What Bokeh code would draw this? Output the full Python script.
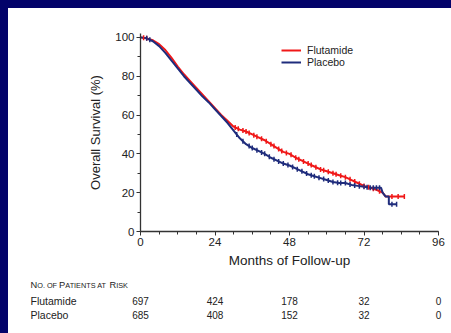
import numpy as np
from bokeh.plotting import figure
from bokeh.models import (Range1d, FixedTicker, Legend, LegendItem, Div)
from bokeh.core.properties import value
from bokeh.layouts import row, column
from bokeh.embed import file_html
from bokeh.resources import INLINE

# ---------------- data ----------------
flut_months = [0, 2, 4, 6, 8, 10, 12, 14, 16, 18, 20, 22, 24, 26, 28, 30, 32, 34, 36, 38,
               40, 42, 44, 46, 48, 50, 52, 54, 56, 58, 60, 62, 64, 66, 68, 70, 72, 74, 76,
               78, 79, 85]
flut_surv = [100, 99.5, 98.5, 96.5, 93.5, 89.5, 85, 81, 77.5, 74, 70.5, 67, 63.5, 60, 57,
             54, 52.5, 51.5, 50, 48.5, 47, 45, 43, 41, 40, 38, 36.5, 35, 33.5, 32, 31, 30,
             29, 28, 26.5, 25, 23.5, 22.5, 21.5, 20, 18, 18]

plac_months = [0, 2, 4, 6, 8, 10, 12, 14, 16, 18, 20, 22, 24, 26, 28, 30, 32, 34, 36, 38,
               40, 42, 44, 46, 48, 50, 52, 54, 56, 58, 60, 62, 64, 66, 68, 70, 72, 74, 76,
               77.5, 78, 79, 80, 80, 82.5]
plac_surv = [100, 99.5, 98, 95.5, 92, 88, 84, 80, 76.5, 73, 69.5, 66.5, 63, 59.5, 56, 52,
             48, 45, 43, 41.5, 40, 38, 36.5, 35, 34, 32.5, 31, 29.5, 28.5, 27.5, 26.5,
             25.5, 25, 25, 24, 23.5, 23, 22.5, 22.5, 22.5, 20, 18, 18, 14, 14]

flut_censor = [1, 2, 30.5, 31.5, 33, 34, 35, 36.5, 37.5, 39, 40.5, 42, 43, 44.5, 45.5, 47,
               48.5, 50, 51, 52.5, 54, 55, 56.5, 58, 59, 60.5, 62, 63, 64.5, 66, 67.5, 69,
               70.5, 72, 73.5, 75, 77, 81, 83, 85]
plac_censor = [2, 3, 31, 33, 35, 36, 37.5, 39, 40, 41.5, 43, 44.5, 46, 47.5, 49, 50.5, 52,
               53.5, 55, 56, 57.5, 59, 60.5, 62, 63.5, 64.5, 66, 67.5, 69, 70.5, 72, 73,
               74, 75, 76, 77, 81, 82.5]

x_ticks = [0, 24, 48, 72, 96]
y_ticks = [0, 20, 40, 60, 80, 100]
groups = ["Flutamide", "Placebo"]
at_risk_flut = [697, 424, 178, 32, 0]
at_risk_plac = [685, 408, 152, 32, 0]

RED = "#f01818"
BLUE = "#1f2c7c"
NAVY = "#03036a"
TXT = "#222222"
FONT = "Liberation Sans"

X_MAX, Y_MAX = 96, 102
FRAME_W = 298            # frame width in pixels
BORDER_L, BORDER_R = 132, 13


def dx(px):  # pixel offset from frame left -> data x
    return px * X_MAX / FRAME_W


# ---------------- main figure ----------------
p = figure(width=443, height=267, x_range=Range1d(0, X_MAX), y_range=Range1d(0, Y_MAX),
           output_backend="svg", toolbar_location=None,
           min_border_left=BORDER_L, min_border_right=BORDER_R, min_border_top=25,
           min_border_bottom=44, background_fill_color="white",
           border_fill_color="white", outline_line_color=None)
p.grid.visible = False

r_f = p.line(flut_months, flut_surv, line_color=RED, line_width=2)
r_p = p.line(plac_months, plac_surv, line_color=BLUE, line_width=2)
p.scatter(flut_censor, np.interp(flut_censor, flut_months, flut_surv), marker="dash",
          angle=np.pi / 2, size=5, line_color=RED, line_width=1.5)
p.scatter(plac_censor, np.interp(plac_censor, plac_months, plac_surv), marker="dash",
          angle=np.pi / 2, size=5, line_color=BLUE, line_width=1.5)

p.xaxis.ticker = FixedTicker(ticks=x_ticks, minor_ticks=list(range(0, 97, 6)))
p.yaxis.ticker = FixedTicker(ticks=y_ticks, minor_ticks=list(range(0, 101, 10)))
for ax in (p.xaxis, p.yaxis):
    ax.axis_line_color = "#333333"
    ax.axis_line_width = 1.3
    ax.major_tick_line_color = "#333333"
    ax.minor_tick_line_color = "#333333"
    ax.major_tick_in = 0
    ax.major_tick_out = 4
    ax.minor_tick_in = 0
    ax.minor_tick_out = 3
    ax.major_label_text_font = FONT
    ax.major_label_text_font_size = "11.5px"
    ax.major_label_text_color = TXT
    ax.axis_label_text_font = FONT
    ax.axis_label_text_font_style = "normal"
    ax.axis_label_text_color = TXT
    ax.major_label_standoff = 2
p.xaxis.axis_label = "Months of Follow-up"
p.xaxis.axis_label_text_font_size = "13.5px"
p.xaxis.axis_label_standoff = 4
p.yaxis.axis_label = "Overall Survival (%)"
p.yaxis.axis_label_text_font_size = "13px"
p.yaxis.axis_label_standoff = 9

legend = Legend(items=[LegendItem(label=groups[0], renderers=[r_f]),
                       LegendItem(label=groups[1], renderers=[r_p])],
                location=(141, 163), padding=0, margin=0, spacing=0,
                label_height=12, glyph_height=12, glyph_width=20, label_standoff=6,
                border_line_alpha=0, background_fill_alpha=0,
                label_text_font=FONT, label_text_font_size="10.5px",
                label_text_color=TXT)
p.add_layout(legend)

# ---------------- number-at-risk table (same x scale as the main plot) ----------------
TABLE_H = 58
t = figure(width=443, height=TABLE_H, output_backend="svg", toolbar_location=None,
           x_range=Range1d(dx(-BORDER_L), dx(443 - BORDER_L)),
           y_range=Range1d(TABLE_H, 0),
           min_border_left=0, min_border_right=0, min_border_top=0, min_border_bottom=0,
           x_axis_location=None, y_axis_location=None, outline_line_color=None,
           background_fill_color="white", border_fill_color="white")
t.grid.visible = False
for fig in (p, t):
    if "frame_align" in fig.properties():
        fig.frame_align = False

# heading "No. of Patients at Risk" in small capitals
big_parts = [("N", -110.0), ("P", -81.4), ("R", -31.0)]
small_parts = [("O. OF", -103.3), ("ATIENTS AT", -75.2), ("ISK", -24.3)]
t.text(x=[dx(v) for _, v in big_parts], y=[9.5] * 3, text=[s for s, _ in big_parts],
       text_font=value(FONT), text_font_size="9.3px", text_color=TXT,
       text_baseline="alphabetic", text_align="left")
t.text(x=[dx(v) for _, v in small_parts], y=[9.5] * 3, text=[s for s, _ in small_parts],
       text_font=value(FONT), text_font_size="7.3px", text_color=TXT,
       text_baseline="alphabetic", text_align="left")

row_y = [25, 39]
t.text(x=[dx(-110)] * 2, y=row_y, text=groups, text_font=value(FONT),
       text_font_size="10.5px", text_color=TXT, text_baseline="middle", text_align="left")
for counts, ys in ((at_risk_flut, row_y[0]), (at_risk_plac, row_y[1])):
    t.text(x=x_ticks, y=[ys] * len(x_ticks), text=[str(c) for c in counts],
           text_font=value(FONT), text_font_size="10px", text_color=TXT,
           text_baseline="middle", text_align="center")

left_bar = Div(width=8, height=333, margin=0, styles={"background-color": NAVY})
top_bar = Div(width=443, height=8, margin=0, styles={"background-color": NAVY})
layout = row(left_bar, column(top_bar, p, t))

open("out.html", "w").write(file_html(layout, INLINE))
